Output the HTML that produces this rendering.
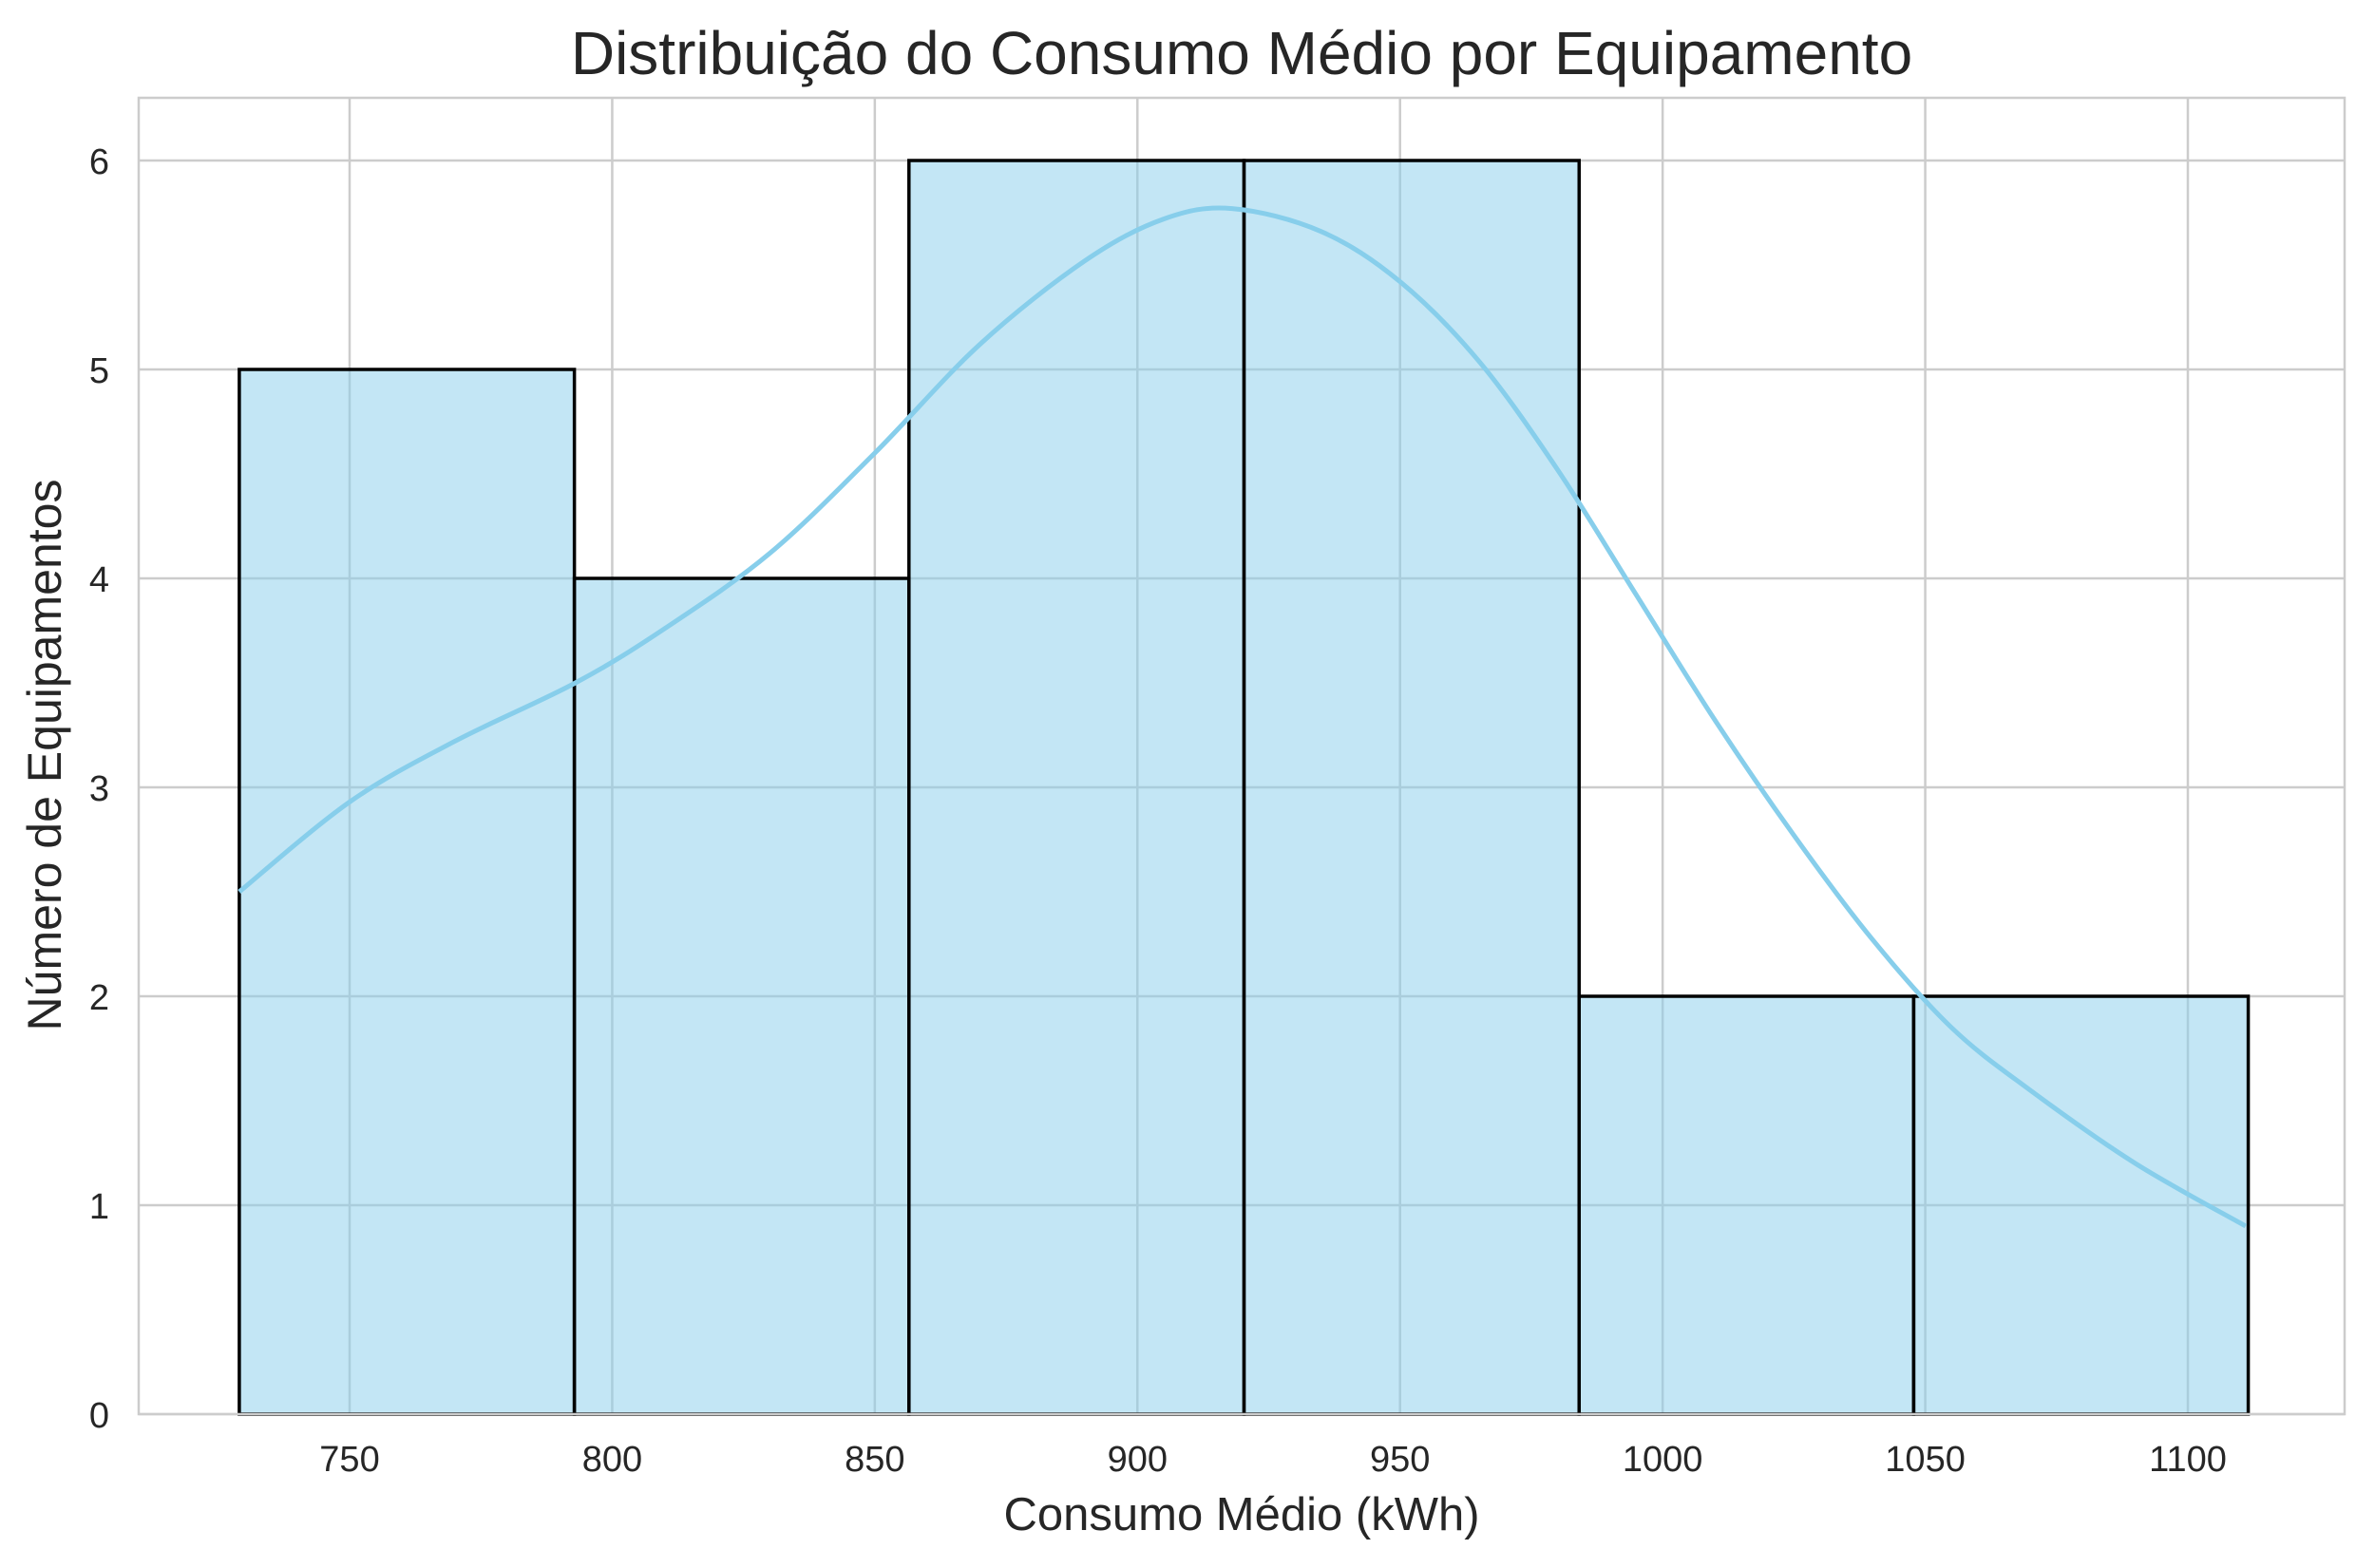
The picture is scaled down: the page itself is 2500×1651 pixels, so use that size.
<!DOCTYPE html>
<html><head><meta charset="utf-8"><style>
html,body{margin:0;padding:0;background:#fff;}
svg{display:block;font-family:"Liberation Sans",Arial,sans-serif;}
</style></head><body>
<svg id="chart" width="2500" height="1651" viewBox="0 0 2500 1651">
<rect width="2500" height="1651" fill="#fff"/>
<g id="grid"></g>
<g id="bars"></g>
<g id="kde"></g>
<g id="axes"></g>
<text x="1307" y="78" text-anchor="middle" font-size="64" fill="#262626">Distribuição do Consumo Médio por Equipamento</text>
<text x="1307" y="1611" text-anchor="middle" font-size="49" fill="#262626">Consumo Médio (kWh)</text>
<text x="0" y="0" transform="translate(64,795) rotate(-90)" text-anchor="middle" font-size="50" fill="#262626">Número de Equipamentos</text>
</svg>
<script>
const binEdges = [729.0, 792.8, 856.5, 920.3, 984.1, 1047.8, 1111.5];
const counts = [5, 4, 6, 6, 2, 2];
const xTicks = [750, 800, 850, 900, 950, 1000, 1050, 1100];
const yTicks = [0, 1, 2, 3, 4, 5, 6];
const kdeX = [729, 750, 770, 793, 810, 830, 850, 870, 890, 905, 918, 935, 950, 965, 980, 995, 1010, 1025, 1040, 1055, 1070, 1090, 1111];
const kdeY = [2.5, 2.93, 3.22, 3.5, 3.76, 4.12, 4.6, 5.12, 5.52, 5.72, 5.77, 5.66, 5.42, 5.04, 4.52, 3.92, 3.32, 2.77, 2.27, 1.85, 1.55, 1.2, 0.9];

const L=146, R=2468, T=103, B=1489;
const sx = v => 368 + (v-750)*(2303-368)/350;
const sy = v => B - v*(B-169)/6;
const NS='http://www.w3.org/2000/svg';
function mk(tag, attrs, parent){const e=document.createElementNS(NS,tag);for(const k in attrs)e.setAttribute(k,attrs[k]);parent.appendChild(e);return e;}
const grid=document.getElementById('grid'), bars=document.getElementById('bars'), kde=document.getElementById('kde'), axes=document.getElementById('axes');

xTicks.forEach(t=>{
  const l=mk('line',{x1:sx(t),x2:sx(t),y1:T,y2:B,stroke:'#cccccc','stroke-width':2.5},grid);
  
  
  const tx=mk('text',{x:sx(t),y:B+60,'text-anchor':'middle','font-size':38,fill:'#262626'},axes);
  tx.textContent=t;
  
  
});
yTicks.forEach(t=>{
  const l=mk('line',{x1:L,x2:R,y1:sy(t),y2:sy(t),stroke:'#cccccc','stroke-width':2.5},grid);
  
  
  const tx=mk('text',{x:L-31,y:sy(t)+14,'text-anchor':'end','font-size':38,fill:'#262626'},axes);
  tx.textContent=t;
  
  
});
counts.forEach((c,i)=>{
  const x0=sx(binEdges[i]), x1=sx(binEdges[i+1]);
  const r=mk('rect',{x:x0,y:sy(c),width:x1-x0,height:sy(0)-sy(c),fill:'rgba(135,206,235,0.5)',stroke:'#000','stroke-width':3.5},bars);
  
  
});
const pts=kdeX.map((x,i)=>[sx(x),sy(kdeY[i])]);
let d='M'+pts[0][0]+','+pts[0][1];
for(let i=0;i<pts.length-1;i++){
  const p0=pts[Math.max(0,i-1)],p1=pts[i],p2=pts[i+1],p3=pts[Math.min(pts.length-1,i+2)];
  const c1=[p1[0]+(p2[0]-p0[0])/6,p1[1]+(p2[1]-p0[1])/6];
  const c2=[p2[0]-(p3[0]-p1[0])/6,p2[1]-(p3[1]-p1[1])/6];
  d+=` C${c1[0]},${c1[1]} ${c2[0]},${c2[1]} ${p2[0]},${p2[1]}`;
}
const kp=mk('path',{d:d,fill:'none',stroke:'#87ceeb','stroke-width':5},kde);


const fr=mk('rect',{x:L,y:T,width:R-L,height:B-T,fill:'none',stroke:'#cccccc','stroke-width':2.5},axes);


</script>
</body></html>
